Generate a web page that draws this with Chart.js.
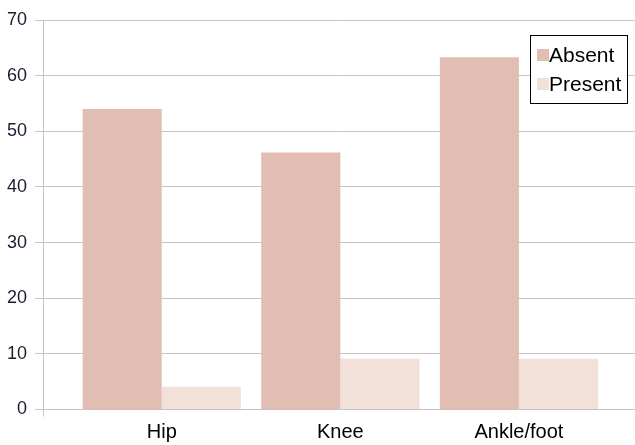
<!DOCTYPE html>
<html>
<head>
<meta charset="utf-8">
<script src="https://cdn.jsdelivr.net/npm/chart.js@4/dist/chart.umd.min.js"></script>
<style>
  html, body { margin: 0; padding: 0; background: #fff; }
  #wrap { width: 635px; height: 445px; position: relative; }
</style>
</head>
<body>
<div id="wrap"><canvas id="c"></canvas></div>
<script>
const categories = ['Hip', 'Knee', 'Ankle/foot'];
const seriesNames = ['Absent', 'Present'];
const absentValues = [54.0, 46.2, 63.3];
const presentValues = [4.1, 9.1, 9.1];
const yTicks = [0, 10, 20, 30, 40, 50, 60, 70];

const FONT = "'Liberation Sans', Arial, sans-serif";
const colors = ['#E2BEB2', '#F2E1D9'];
const gridColor = '#C4C4C4';

const legendBox = {
  id: 'legendBox',
  afterDraw(chart) {
    const ctx = chart.ctx;
    const ca = chart.chartArea;
    ctx.save();
    // small extension of the vertical axis line below zero
    ctx.strokeStyle = gridColor;
    ctx.lineWidth = 1;
    ctx.beginPath();
    ctx.moveTo(Math.round(ca.left) + 0.5, ca.bottom);
    ctx.lineTo(Math.round(ca.left) + 0.5, ca.bottom + 7);
    ctx.stroke();

    const w = 98, h = 69;
    const x = ca.right - 7 - w, y = ca.top + 15;
    ctx.fillStyle = '#fff';
    ctx.fillRect(x, y, w, h);
    ctx.strokeStyle = '#000';
    ctx.strokeRect(x + 0.5, y + 0.5, w - 1, h - 1);
    ctx.font = '21px ' + FONT;
    ctx.textBaseline = 'middle';
    chart.data.datasets.forEach((ds, i) => {
      const cy = y + 20 + i * 29;
      ctx.fillStyle = ds.backgroundColor;
      ctx.fillRect(x + 7, cy - 6, 12, 12);
      ctx.fillStyle = '#000';
      ctx.fillText(ds.label, x + 19, cy + 1);
    });
    ctx.restore();
  }
};

new Chart(document.getElementById('c'), {
  type: 'bar',
  data: {
    datasets: [
      { label: seriesNames[0], data: absentValues.map((v, i) => ({ x: i, y: v })), backgroundColor: colors[0] },
      { label: seriesNames[1], data: presentValues.map((v, i) => ({ x: i, y: v })), backgroundColor: colors[1] }
    ]
  },
  options: {
    responsive: true,
    maintainAspectRatio: false,
    animation: false,
    devicePixelRatio: 1,
    layout: { padding: { top: 20, right: 0, bottom: 0, left: 0 } },
    datasets: { bar: { barPercentage: 1.0, categoryPercentage: 0.886, borderWidth: 0 } },
    plugins: { legend: { display: false }, tooltip: { enabled: false } },
    scales: {
      x: {
        type: 'linear',
        offset: false,
        bounds: 'data',
        min: -0.665,
        max: 2.65,
        afterBuildTicks(scale) { scale.ticks = categories.map((c, i) => ({ value: i })); },
        afterFit(scale) { scale.height = 35.5; },
        grid: { display: false, drawTicks: false, offset: false },
        border: { display: false },
        ticks: {
          padding: 11,
          color: '#000',
          font: { family: FONT, size: 20 },
          callback: (v) => categories[v] !== undefined ? categories[v] : ''
        }
      },
      y: {
        min: 0,
        max: 70,
        afterBuildTicks(scale) { scale.ticks = yTicks.map(v => ({ value: v })); },
        afterFit(scale) { scale.width = 43; },
        grid: { color: gridColor, lineWidth: 1, drawTicks: true, tickLength: 8, tickColor: gridColor },
        border: { display: true, color: gridColor, width: 1 },
        ticks: {
          padding: 8,
          color: '#1c1c30',
          font: { family: FONT, size: 18 }
        }
      }
    }
  },
  plugins: [legendBox]
});
</script>
</body>
</html>
